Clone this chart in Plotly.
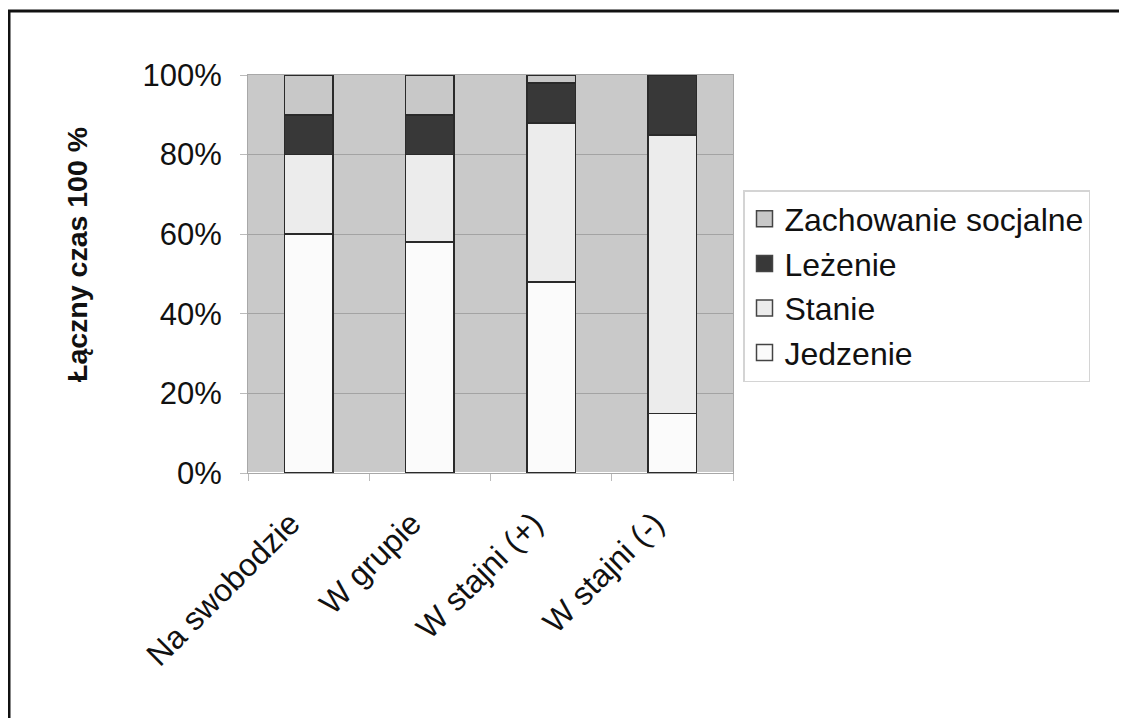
import plotly.graph_objects as go

categories = ["Na swobodzie", "W grupie", "W stajni (+)", "W stajni (-)"]
jedzenie = [60, 58, 48, 15]
stanie = [20, 22, 40, 70]
lezenie = [10, 10, 10, 15]
zachowanie = [10, 10, 2, 0]

series = [
    ("Jedzenie", jedzenie, "#fbfbfb"),
    ("Stanie", stanie, "#ececec"),
    ("Leżenie", lezenie, "#383838"),
    ("Zachowanie socjalne", zachowanie, "#c8c8c8"),
]

OFF = 8  # page body margin
W, H = 1127 - OFF, 718 - OFF
L, R, T, B = 248 - OFF, 733 - OFF, 75 - OFF, 473 - OFF

fig = go.Figure()
for name, vals, col in series:
    fig.add_trace(go.Bar(
        x=categories, y=vals, name=name, showlegend=False,
        marker=dict(color=col, line=dict(color="#2a2a2a", width=1.6)),
        width=0.4,
    ))
# legend entries with larger square swatches
for name, vals, col in series:
    fig.add_trace(go.Scatter(
        x=[None], y=[None], name=name, mode="markers",
        marker=dict(symbol="square", size=16, color=col,
                    line=dict(color="#444", width=1.5)),
    ))

font = "Arial, Liberation Sans, sans-serif"

def px_x(p):
    return (p - OFF - L) / (R - L)

def px_y(p):
    return (B - (p - OFF)) / (B - T)

fig.update_layout(
    width=W, height=H,
    barmode="stack",
    bargap=0.6,
    paper_bgcolor="white",
    plot_bgcolor="#c9c9c9",
    margin=dict(l=L, r=W - R, t=T, b=H - B, pad=0),
    font=dict(family=font, size=31, color="#111"),
    showlegend=True,
    legend=dict(
        traceorder="reversed",
        x=px_x(743), y=px_y(190), xanchor="left", yanchor="top",
        bordercolor="#d4d4d4", borderwidth=1.5, bgcolor="white",
        font=dict(size=32, family=font),
        itemwidth=30, itemsizing="trace",
    ),
    xaxis=dict(
        tickangle=-45,
        ticks="outside", tickson="boundaries", ticklen=7, tickcolor="#bbbbbb",
        showline=True, linecolor="#a8a8a8", linewidth=1, mirror=True,
        showgrid=False,
        tickfont=dict(size=32, family=font),
        ticklabelstandoff=18, ticklabelshift=-18,
    ),
    yaxis=dict(
        range=[0, 100],
        tickvals=[0, 20, 40, 60, 80, 100],
        ticktext=["0%", "20%", "40%", "60%", "80%", "100%"],
        ticks="outside", ticklen=7, tickcolor="#bbbbbb",
        showline=True, linecolor="#a8a8a8", linewidth=1, mirror=True,
        showgrid=True, gridcolor="#a3a3a3", gridwidth=1,
        tickfont=dict(size=31, family=font),
        ticklabelstandoff=12,
    ),
    annotations=[dict(
        text="<b>Łączny czas 100 %</b>",
        xref="paper", yref="paper",
        x=px_x(77), y=px_y(255), xanchor="center", yanchor="middle",
        textangle=-90, showarrow=False,
        font=dict(size=28.5, family=font, color="#111"),
    )],
    shapes=[
        dict(type="line", xref="paper", yref="paper",
             x0=px_x(8), x1=px_x(1140), y0=px_y(11), y1=px_y(11),
             line=dict(color="#111", width=3)),
        dict(type="line", xref="paper", yref="paper",
             x0=px_x(9), x1=px_x(9), y0=px_y(10), y1=px_y(730),
             line=dict(color="#111", width=3)),
    ],
)

fig.write_html("out.html")
